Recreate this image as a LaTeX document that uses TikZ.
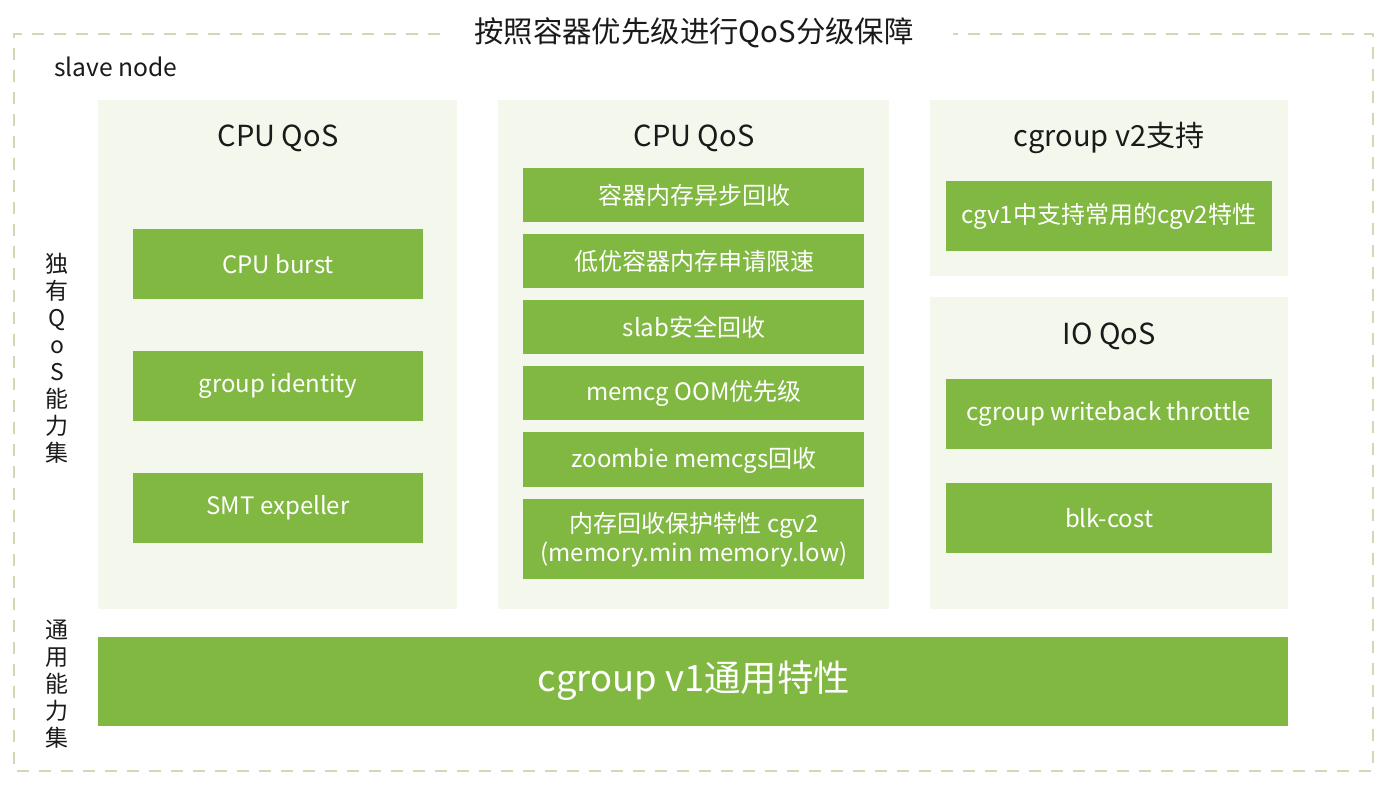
\documentclass[tikz,border=0pt]{standalone}
\usepackage{fontspec}
\setmainfont{Noto Sans CJK SC}
\definecolor{frame}{HTML}{D0D9B4}
\definecolor{panelbg}{HTML}{F4F8EC}
\definecolor{boxgreen}{HTML}{80B842}
\definecolor{ink}{HTML}{1A1A1A}
\begin{document}
\begin{tikzpicture}[x=0.5pt,y=-0.5pt,
  panel/.style={fill=panelbg,draw=none},
  gbox/.style={fill=boxgreen,draw=none},
  gtext/.style={text=white,font=\fontsize{12}{14.5}\selectfont,align=center},
  head/.style={text=ink,font=\fontsize{14.5}{17}\selectfont},
  side/.style={text=ink,font=\fontsize{11.5}{13.5}\selectfont,align=center,inner sep=0pt}]
\useasboundingbox (0,0) rectangle (1400,796);
% outer dashed frame
\draw[frame,line width=1.2pt,dash pattern=on 6pt off 5pt] (440,34) -- (14,34) -- (14,771) -- (1373,771) -- (1373,34) -- (953,34);
\node[text=ink,font=\fontsize{14.7}{17}\selectfont] (title) at (694,33) {按照容器优先级进行QoS分级保障};
\node[text=ink,font=\fontsize{12.3}{14}\selectfont,anchor=west,inner sep=0pt] (slave) at (54,67) {slave node};
% panels
\path[panel] (98,100) rectangle (457,609);
\path[panel] (498,100) rectangle (889,609);
\path[panel] (930,100) rectangle (1288,276);
\path[panel] (930,297) rectangle (1288,609);
\node[head] (h1) at (278,138) {CPU QoS};
\node[head] (h2) at (694,138) {CPU QoS};
\node[head] (h3) at (1109,138) {cgroup v2支持};
\node[head] (h4) at (1109,336) {IO QoS};
% panel 1
\path[gbox] (133,229) rectangle (423,299);
\node[gtext] (b11) at (278,264) {CPU burst};
\path[gbox] (133,351) rectangle (423,421);
\node[gtext] (b12) at (278,386) {group identity};
\path[gbox] (133,473) rectangle (423,543);
\node[gtext] (b13) at (278,508) {SMT expeller};
% panel 2
\path[gbox] (523,168) rectangle (864,222);
\node[gtext] (b21) at (694,195) {容器内存异步回收};
\path[gbox] (523,234) rectangle (864,288);
\node[gtext] (b22) at (694,261) {低优容器内存申请限速};
\path[gbox] (523,300) rectangle (864,354);
\node[gtext] (b23) at (694,327) {slab安全回收};
\path[gbox] (523,366) rectangle (864,420);
\node[gtext] (b24) at (694,393) {memcg OOM优先级};
\path[gbox] (523,432) rectangle (864,487);
\node[gtext] (b25) at (694,460) {zoombie memcgs回收};
\path[gbox] (523,499) rectangle (864,579);
\node[gtext] (b26) at (694,540) {内存回收保护特性 cgv2\\(memory.min memory.low)};
% panel 3
\path[gbox] (946,181) rectangle (1272,251);
\node[gtext] (b31) at (1109,216) {cgv1中支持常用的cgv2特性};
% panel 4
\path[gbox] (946,379) rectangle (1272,449);
\node[gtext] (b41) at (1109,414) {cgroup writeback throttle};
\path[gbox] (946,483) rectangle (1272,553);
\node[gtext] (b42) at (1109,518) {blk-cost};
% bottom
\path[gbox] (98,637) rectangle (1288,726);
\node[text=white,font=\fontsize{18.2}{21}\selectfont] (bottom) at (694,681) {cgroup v1通用特性};
% side labels
\node[side] (s1) at (57,358) {独\\有\\Q\\o\\S\\能\\力\\集};
\node[side] (s2) at (57,684) {通\\用\\能\\力\\集};
\end{tikzpicture}
\end{document}
